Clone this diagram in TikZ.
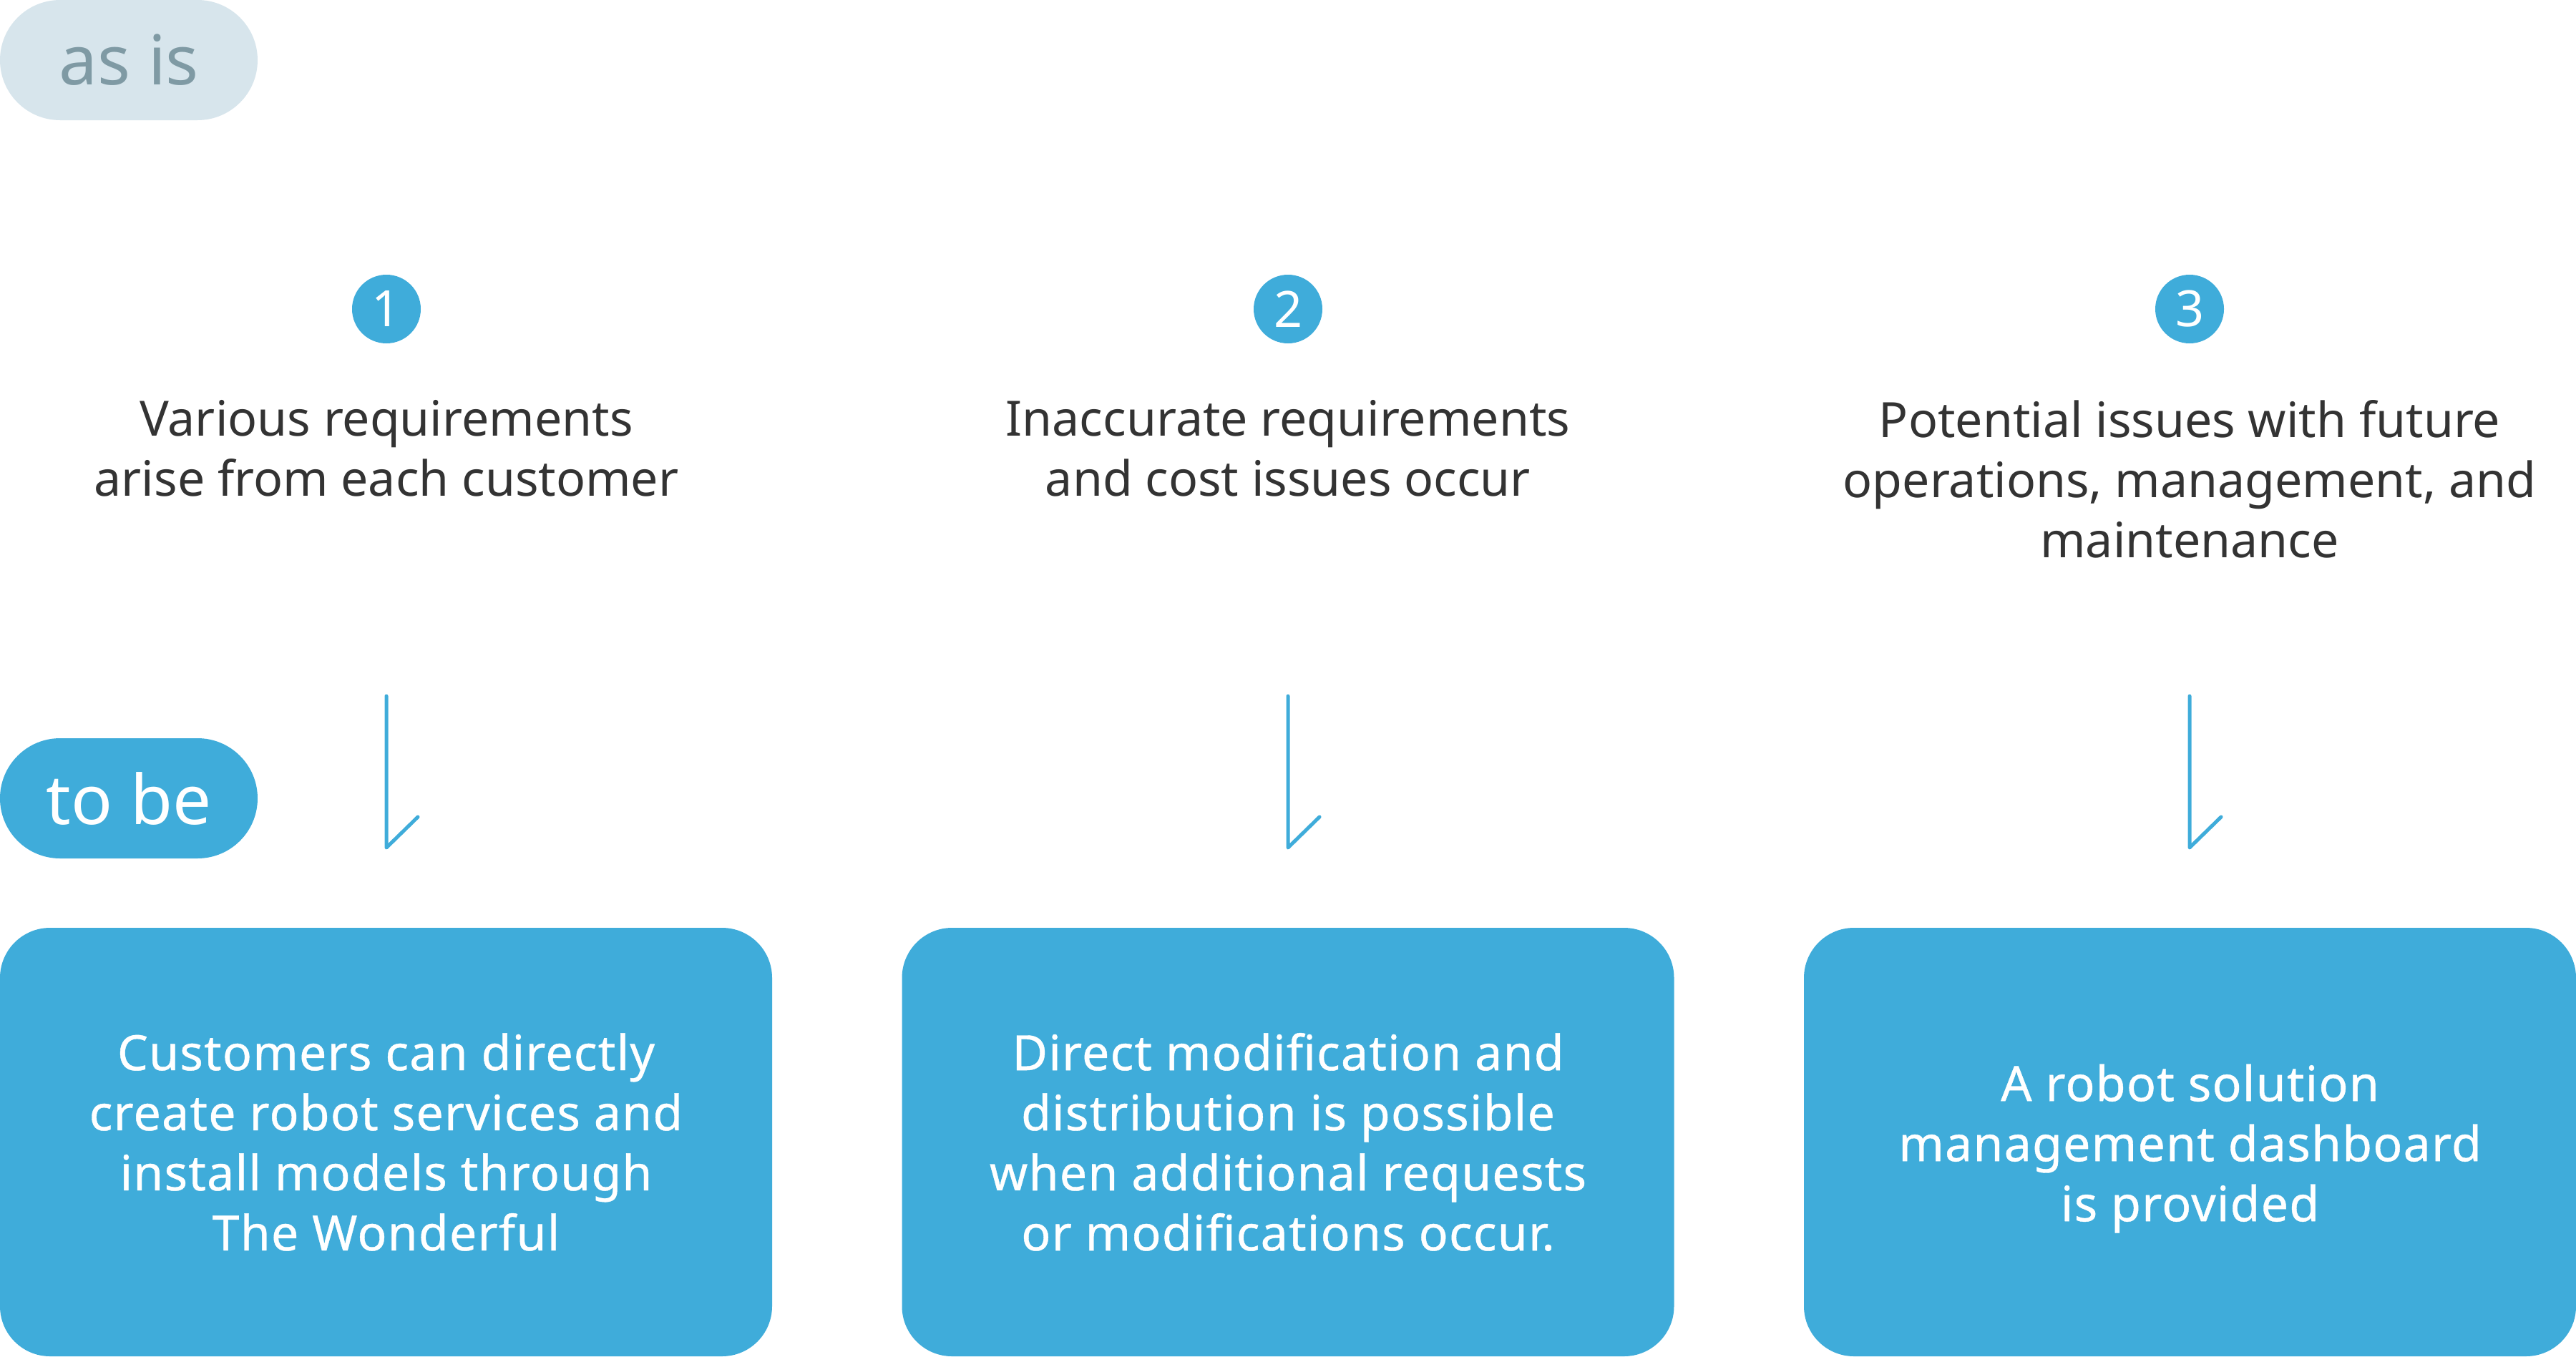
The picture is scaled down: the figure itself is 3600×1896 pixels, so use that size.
\documentclass[tikz,border=0pt]{standalone}
\usepackage{fontspec}
\setmainfont{Noto Sans}
\newfontfamily\medfont[FakeBold=0.6,LetterSpace=1.8]{Noto Sans}
\definecolor{brandblue}{HTML}{3FACDA}
\definecolor{pilllight}{HTML}{D7E5EC}
\definecolor{pillgray}{HTML}{7F9AA4}
\definecolor{darktext}{HTML}{333333}
\begin{document}
\begin{tikzpicture}[x=1pt,y=-1pt,
  pill/.style={inner sep=0pt, minimum width=360pt, minimum height=168pt, rounded corners=84pt, font=\fontsize{96}{110}\selectfont},
  numdot/.style={circle, fill=brandblue, inner sep=0pt, minimum size=96pt, text=white, font=\fontsize{70}{80}\selectfont},
  problem/.style={align=center, inner sep=0pt, anchor=north, text=darktext, font=\fontsize{68}{84}\selectfont},
  boxtext/.style={align=center, inner sep=0pt, text=white, font=\medfont\fontsize{68}{84}\selectfont},
  solution/.style={boxtext, fill=brandblue, rounded corners=70pt, minimum width=1079pt, minimum height=599pt},
  flow/.style={draw=brandblue, line width=5pt, line cap=round, line join=round}
]
\useasboundingbox (0,0) rectangle (3600,1896);
\fill[white] (0,0) rectangle (3600,1896);

\node[pill, fill=pilllight, text=pillgray] (asis) at (180,84) {as is};
\node[pill, fill=brandblue, text=white] (tobe) at (180,1116) {to be};

\node[numdot] (n1) at (540,432) {1};
\node[numdot] (n2) at (1800,432) {2};
\node[numdot] (n3) at (3060,432) {3};

\node[problem] (p1) at (540,559) {Various requirements\\arise from each customer};
\node[problem] (p2) at (1800,559) {Inaccurate requirements\\and cost issues occur};
\node[problem] (p3) at (3060,559) {Potential issues with future\\operations, management, and\\maintenance};

\node[solution] (s1) at (539.5,1596.5) {Customers can directly\\create robot services and\\install models through\\The Wonderful};
\node[solution] (s2) at (1800,1596.5) {Direct modification and\\distribution is possible\\when additional requests\\or modifications occur.};
\node[solution] (s3) at (3060.5,1596.5) {};
\node[boxtext] (s3text) at ([yshift=-9pt]s3.center) {A robot solution\\management dashboard\\is provided};

\foreach \i/\x in {1/540,2/1800,3/3060}{
  \coordinate (a\i top) at (\x,973);
  \coordinate (a\i bot) at (\x,1185);
  \coordinate (a\i tip) at (\x+44,1142);
  \draw[flow] (a\i top) -- (a\i bot) -- (a\i tip);
}
\end{tikzpicture}
\end{document}
